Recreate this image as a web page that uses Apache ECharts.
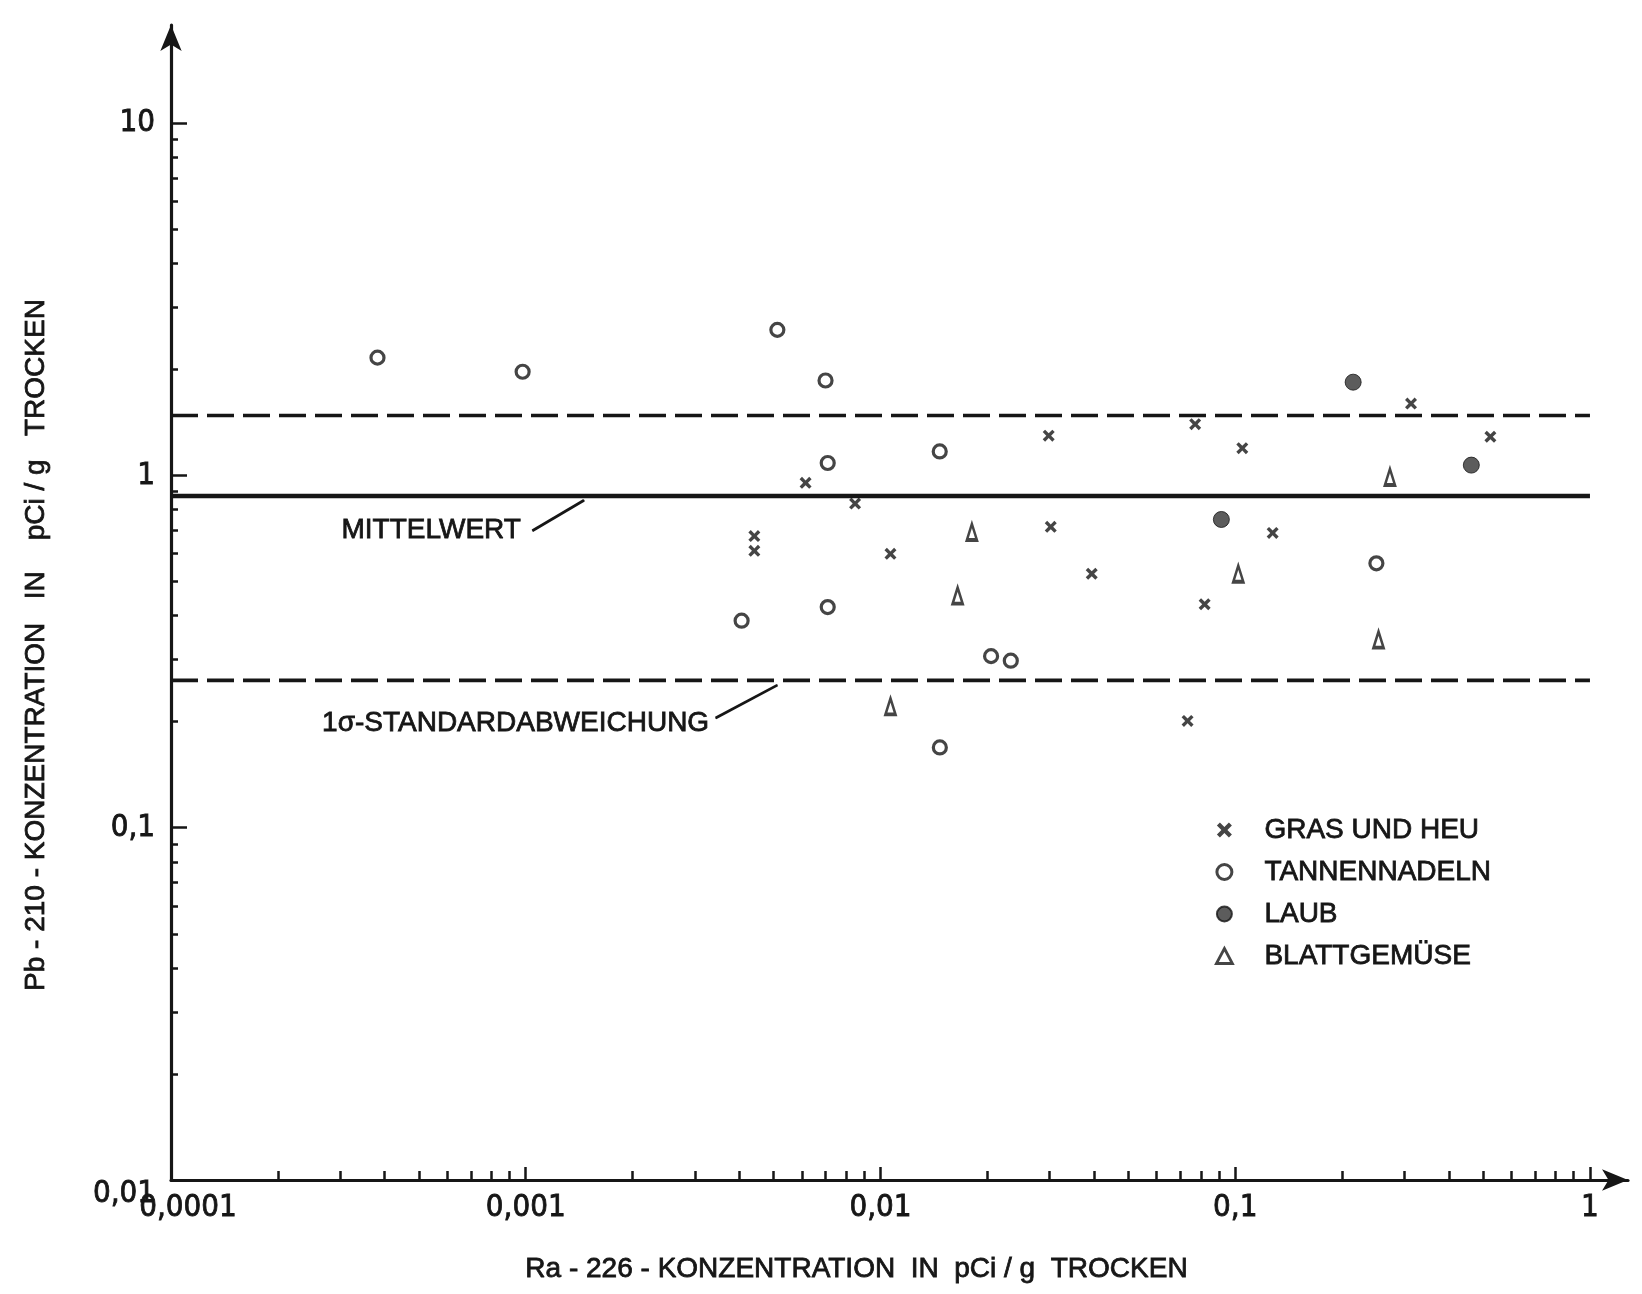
<!DOCTYPE html>
<html><head><meta charset="utf-8">
<script src="https://cdn.jsdelivr.net/npm/echarts@6/dist/echarts.min.js"></script>
<style>html,body{margin:0;padding:0;background:#fff;} #c{width:1642px;height:1294px;}</style>
</head><body><div id="c"></div>
<script>
// ---- data (x = Ra-226, y = Pb-210, pCi/g trocken) ----
const grasUndHeu = [[0.00441,0.673],[0.00441,0.611],[0.00615,0.953],[0.00848,0.832],[0.01067,0.599],[0.0298,1.297],[0.0302,0.715],[0.0394,0.526],[0.0771,1.398],[0.1047,1.195],[0.0820,0.431],[0.1275,0.687],[0.0734,0.201],[0.313,1.60],[0.524,1.288]];
const tannennadeln = [[0.000382,2.16],[0.00098,1.97],[0.00512,2.59],[0.0070,1.86],[0.0071,1.085],[0.01469,1.17],[0.00406,0.387],[0.0071,0.423],[0.0205,0.307],[0.0233,0.298],[0.0147,0.169],[0.250,0.563]];
const laub = [[0.215,1.84],[0.463,1.07],[0.0914,0.750]];
const blattgemuese = [[0.0181,0.691],[0.0165,0.456],[0.01067,0.221],[0.102,0.526],[0.273,0.99],[0.2535,0.342]];
const mittelwert = 0.875;
const sigmaOben = 1.48;
const sigmaUnten = 0.262;
const lineRange = [0.0001, 1];
const mittelwertLeader = [[0.001044,0.697],[0.00146,0.85]];
const sigmaLeader = [[0.00343,0.205],[0.00512,0.254]];
const xTickValues = [0.0001,0.001,0.01,0.1,1];
const yTickValues = [0.01,0.1,1,10];
const xMinorTicks = [0.0002,0.0003,0.0004,0.0005,0.0006,0.0007,0.0008,0.0009,0.002,0.003,0.004,0.005,0.006,0.007,0.008,0.009,0.02,0.03,0.04,0.05,0.06,0.07,0.08,0.09,0.2,0.3,0.4,0.5,0.6,0.7,0.8,0.9];
const yMinorTicks = [0.02,0.03,0.04,0.05,0.06,0.07,0.08,0.09,0.2,0.3,0.4,0.5,0.6,0.7,0.8,0.9,2,3,4,5,6,7,8,9];
const xName = 'Ra - 226 - KONZENTRATION  IN  pCi / g  TROCKEN';
const yName = 'Pb - 210 - KONZENTRATION   IN    pCi / g   TROCKEN';
const legendNames = ['GRAS UND HEU','TANNENNADELN','LAUB','BLATTGEMÜSE'];

const ink = '#161616';
const textFont = "'Liberation Sans', Arial, sans-serif";
const numFont = "'Liberation Sans Narrow', 'DejaVu Sans Condensed', sans-serif";
const heavy = {textBorderColor: ink, textBorderWidth: 0.8};
const xMark = 'path://M0,2 L2,0 L5,3 L8,0 L10,2 L7,5 L10,8 L8,10 L5,7 L2,10 L0,8 L3,5 Z';
const fmt = v => String(v).replace('.', ',');

const chart = echarts.init(document.getElementById('c'), null, {renderer: 'canvas'});
const xMax = 1.28, yMax = 19;

const option = {
  backgroundColor: '#ffffff',
  animation: false,
  grid: {left: 171, right: 14, top: 25, bottom: 114, containLabel: false, outerBoundsMode: 'none'},
  legend: {
    orient: 'vertical', left: 1210, top: 810, itemGap: 12, itemWidth: 16, itemHeight: 15,
    data: [
      {name: legendNames[0]},
      {name: legendNames[1], itemStyle: {borderWidth: 3, borderColor: ink, color: '#ffffff'}},
      {name: legendNames[2]},
      {name: legendNames[3], itemStyle: {borderWidth: 2.8, borderColor: ink, color: '#ffffff'}}
    ],
    selectedMode: false,
    formatter: n => '{t|' + n + '}',
    textStyle: {fontFamily: textFont, fontSize: 28, lineHeight: 30, color: ink,
      rich: {t: Object.assign({fontFamily: textFont, fontSize: 28, lineHeight: 30, color: ink, padding: [0, 0, 0, 27]}, heavy)}}
  },
  xAxis: [{
    type: 'log', logBase: 10, min: 0.0001, max: xMax, position: 'bottom',
    axisLine: {show: true, onZero: false, lineStyle: {color: ink, width: 3.2}, symbol: ['none', 'arrow'], symbolSize: [16, 26]},
    axisTick: {show: true, inside: true, length: 13, lineStyle: {color: ink, width: 2.5}, customValues: xTickValues},
    axisLabel: Object.assign({
      customValues: xTickValues, margin: 12, color: ink, fontFamily: numFont, fontSize: 31,
      formatter: v => v === 0.0001 ? '{first|' + fmt(v) + '}' : fmt(v),
      rich: {first: Object.assign({padding: [0, 0, 0, 34], fontFamily: numFont, fontSize: 31, color: ink}, heavy)}
    }, heavy),
    splitLine: {show: false}, minorTick: {show: false},
    name: xName, nameLocation: 'middle', nameGap: 75,
    nameTextStyle: Object.assign({fontFamily: textFont, fontSize: 28, color: ink, padding: [0, 86, 0, 0]}, heavy)
  }, {
    type: 'log', logBase: 10, min: 0.0001, max: xMax, position: 'bottom',
    axisLine: {show: false, onZero: false},
    axisTick: {show: true, inside: true, length: 9, lineStyle: {color: ink, width: 2.5}, customValues: xMinorTicks},
    axisLabel: {show: false}, splitLine: {show: false}
  }],
  yAxis: [{
    type: 'log', logBase: 10, min: 0.01, max: yMax, position: 'left',
    axisLine: {show: true, onZero: false, lineStyle: {color: ink, width: 3.2}, symbol: ['none', 'arrow'], symbolSize: [16, 26]},
    axisTick: {show: true, inside: true, length: 16, lineStyle: {color: ink, width: 2.5}, customValues: yTickValues},
    axisLabel: Object.assign({
      customValues: yTickValues, margin: 16, color: ink, fontFamily: numFont, fontSize: 31,
      formatter: v => v === 0.01 ? '{low|' + fmt(v) + '}' : fmt(v),
      rich: {low: Object.assign({padding: [28, 0, 0, 0], fontFamily: numFont, fontSize: 31, color: ink}, heavy)}
    }, heavy),
    splitLine: {show: false}, minorTick: {show: false},
    name: yName, nameLocation: 'middle', nameGap: 121, nameRotate: 90,
    nameTextStyle: Object.assign({fontFamily: textFont, fontSize: 28, color: ink, padding: [0, 85, 0, 0]}, heavy)
  }, {
    type: 'log', logBase: 10, min: 0.01, max: yMax, position: 'left',
    axisLine: {show: false, onZero: false},
    axisTick: {show: true, inside: true, length: 7, lineStyle: {color: ink, width: 2.5}, customValues: yMinorTicks},
    axisLabel: {show: false}, splitLine: {show: false}
  }],
  series: [
    {name: 'Mittelwert', type: 'line', z: 1, silent: true, symbol: 'none',
      data: lineRange.map(x => [x, mittelwert]), lineStyle: {color: ink, width: 4.5, type: 'solid'}},
    {name: 'Sigma oben', type: 'line', z: 1, silent: true, symbol: 'none',
      data: lineRange.map(x => [x, sigmaOben]), lineStyle: {color: ink, width: 3.6, type: [27, 9]}},
    {name: 'Sigma unten', type: 'line', z: 1, silent: true, symbol: 'none',
      data: lineRange.map(x => [x, sigmaUnten]), lineStyle: {color: ink, width: 3.6, type: [27, 9]}},
    {name: 'Mittelwert-Beschriftung', type: 'line', z: 1, silent: true, symbol: 'circle', symbolSize: 1, showSymbol: true,
      itemStyle: {color: ink}, lineStyle: {color: ink, width: 2.8},
      data: [{value: mittelwertLeader[0], label: Object.assign({show: true, position: 'left', distance: 11, formatter: 'MITTELWERT',
        fontFamily: textFont, fontSize: 28, color: ink}, heavy)}, mittelwertLeader[1]]},
    {name: 'Sigma-Beschriftung', type: 'line', z: 1, silent: true, symbol: 'circle', symbolSize: 1, showSymbol: true,
      itemStyle: {color: ink}, lineStyle: {color: ink, width: 2.8},
      data: [{value: sigmaLeader[0], label: Object.assign({show: true, position: 'left', distance: 6, offset: [0, 5], formatter: '1σ-STANDARDABWEICHUNG',
        fontFamily: textFont, fontSize: 28, color: ink}, heavy)}, sigmaLeader[1]]},
    {name: legendNames[0], type: 'scatter', z: 3, data: grasUndHeu, symbol: xMark, symbolSize: 12,
      itemStyle: {color: ink}},
    {name: legendNames[1], type: 'scatter', z: 3, data: tannennadeln, symbol: 'circle', symbolSize: 13,
      itemStyle: {color: '#ffffff', borderColor: ink, borderWidth: 3.2}},
    {name: legendNames[2], type: 'scatter', z: 3, data: laub, symbol: 'circle', symbolSize: 16,
      itemStyle: {color: '#333333', borderColor: ink, borderWidth: 1}},
    {name: legendNames[3], type: 'scatter', z: 3, data: blattgemuese, symbol: 'triangle', symbolSize: [10, 16],
      itemStyle: {color: '#ffffff', borderColor: ink, borderWidth: 3}}
  ]
};
chart.setOption(option);
</script>
</body></html>
